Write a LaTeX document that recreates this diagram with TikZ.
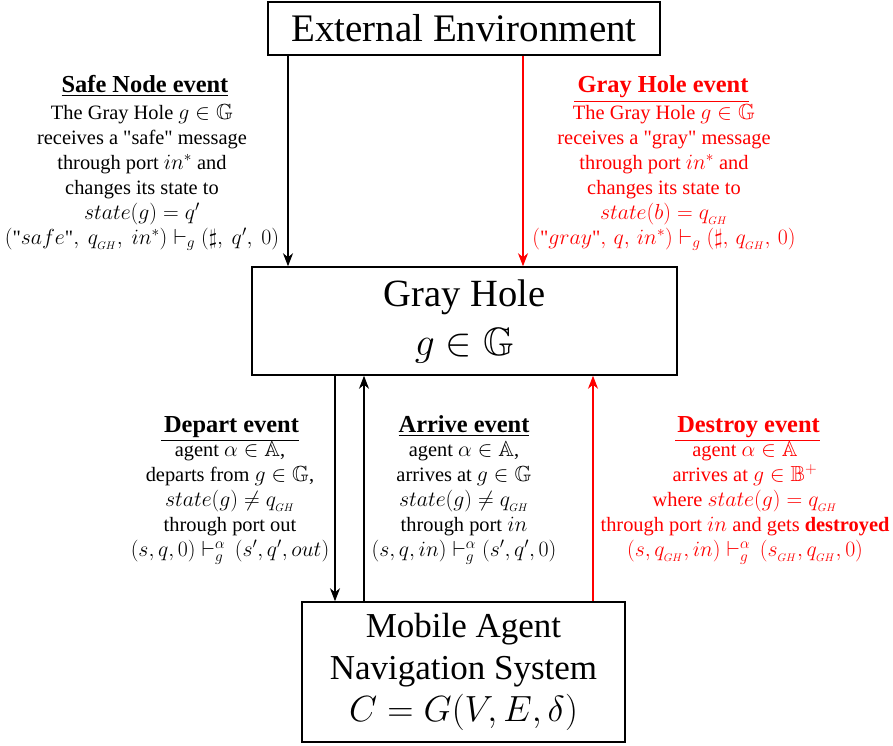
\RequirePackage{fix-cm}
\documentclass[tikz,border=0pt]{standalone}
\usepackage{amsmath,amssymb}
\usepackage{fontspec}
\setmainfont{Liberation Serif}[Ligatures=TeXOff]
\usetikzlibrary{arrows.meta}

% formulas are set a little larger than the surrounding text
\DeclareMathSizes{20.4}{21.8}{15.3}{10.9}
\DeclareMathSizes{35}{36.4}{25.5}{18.2}
\DeclareMathSizes{38.5}{39.6}{27.7}{19.8}

\newcommand{\qgh}{q_{_{GH}}}
\newcommand{\sgh}{s_{_{GH}}}
\newcommand{\qt}{\text{"}}

\tikzset{
  box/.style={draw, line width=1.5pt, inner sep=0pt, align=center},
  flow/.style={line width=1.2pt, -{Stealth[length=13pt,width=10pt,inset=4pt]}},
  evtitle/.style={font=\fontsize{24.4}{29}\selectfont\bfseries, inner sep=0pt, anchor=base},
  evbody/.style={font=\fontsize{20.4}{25}\selectfont, inner sep=0pt, align=center, anchor=north},
  rulesep/.style={line width=0.8pt}
}

\begin{document}
\begin{tikzpicture}[x=1pt,y=-1pt]
\useasboundingbox (0,0) rectangle (893,745);

% main blocks
\node[box, minimum width=392pt, minimum height=53pt,
      font=\fontsize{39}{46}\selectfont] (ext) at (464,28.5) {External Environment};
\node[box, minimum width=425pt, minimum height=108pt,
      font=\fontsize{38.5}{49}\selectfont] (gh) at (464.5,321) {Gray Hole\\$g\in\mathbb{G}$};
\node[box, minimum width=323pt, minimum height=140pt,
      font=\fontsize{35}{42}\selectfont] (mas) at (463.5,672)
      {Mobile Agent\\Navigation System\\$C=G(V,E,\delta)$};

% x positions of the connectors
\coordinate (xsafe) at (288,0);
\coordinate (xgray) at (523,0);
\coordinate (xdep) at (335,0);
\coordinate (xarr) at (364,0);
\coordinate (xdes) at (593,0);

% connectors
\draw[flow] (ext.south -| xsafe) -- (gh.north -| xsafe);
\draw[flow, red] (ext.south -| xgray) -- (gh.north -| xgray);
\draw[flow] (gh.south -| xdep) -- (mas.north -| xdep);
\draw[flow] (mas.north -| xarr) -- (gh.south -| xarr);
\draw[flow, red] (mas.north -| xdes) -- (gh.south -| xdes);

% Safe Node event
\node[evtitle] (tsafe) at (145,92) {\underline{Safe Node event}};
\node[evbody] (bsafe) at (142,104) {The Gray Hole $g\in\mathbb{G}$\\
  receives a "safe" message\\
  through port $in^*$ and\\
  changes its state to\\
  $state(g)=q'$\\
  $(\qt safe\qt,\ \qgh,\ in^*)\vdash_g(\sharp,\ q',\ 0)$};

% Gray Hole event
\begin{scope}[red]
\node[evtitle] (tgray) at (663,92) {Gray Hole event};
\draw[rulesep] ([xshift=-3pt,yshift=-9pt]tgray.base west) -- ([yshift=-9pt]tgray.base east);
\node[evbody] (bgray) at (664,104) {The Gray Hole $g\in\mathbb{G}$\\
  receives a "gray" message\\
  through port $in^*$ and\\
  changes its state to\\
  $state(b)=\qgh$\\
  $(\qt gray\qt,\,q,\,in^*)\vdash_g(\sharp,\,\qgh,\,0)$};
\end{scope}

% Depart event
\node[evtitle] (tdep) at (231.5,432) {Depart event};
\draw[rulesep] ([xshift=-3pt,yshift=-8pt]tdep.base west) -- ([yshift=-8pt]tdep.base east);
\node[evbody] (bdep) at (230,441) {agent $\alpha\in\mathbb{A}$,\\
  departs from $g\in\mathbb{G}$,\\
  $state(g)\neq\qgh$\\
  through port out\\
  $(s,q,0)\vdash_g^\alpha\,(s',q',out)$};

% Arrive event
\node[evtitle] (tarr) at (464,432) {\underline{Arrive event}};
\node[evbody] (barr) at (464,441) {agent $\alpha\in\mathbb{A}$,\\
  arrives at $g\in\mathbb{G}$\\
  $state(g)\neq\qgh$\\
  through port $in$\\
  $(s,q,in)\vdash_g^\alpha(s',q',0)$};

% Destroy event
\begin{scope}[red]
\node[evtitle] (tdes) at (748.5,432) {Destroy event};
\draw[rulesep] ([xshift=-2pt,yshift=-8pt]tdes.base west) -- ([yshift=-8pt]tdes.base east);
\node[evbody] (bdes) at (745,441) {agent $\alpha\in\mathbb{A}$\\
  arrives at $g\in\mathbb{B}^+$\\
  where $state(g)=\qgh$\\
  through port $in$ and gets \textbf{destroyed}\\
  $(s,\qgh,in)\vdash_g^\alpha\,(\sgh,\qgh,0)$};
\end{scope}
\end{tikzpicture}
\end{document}
